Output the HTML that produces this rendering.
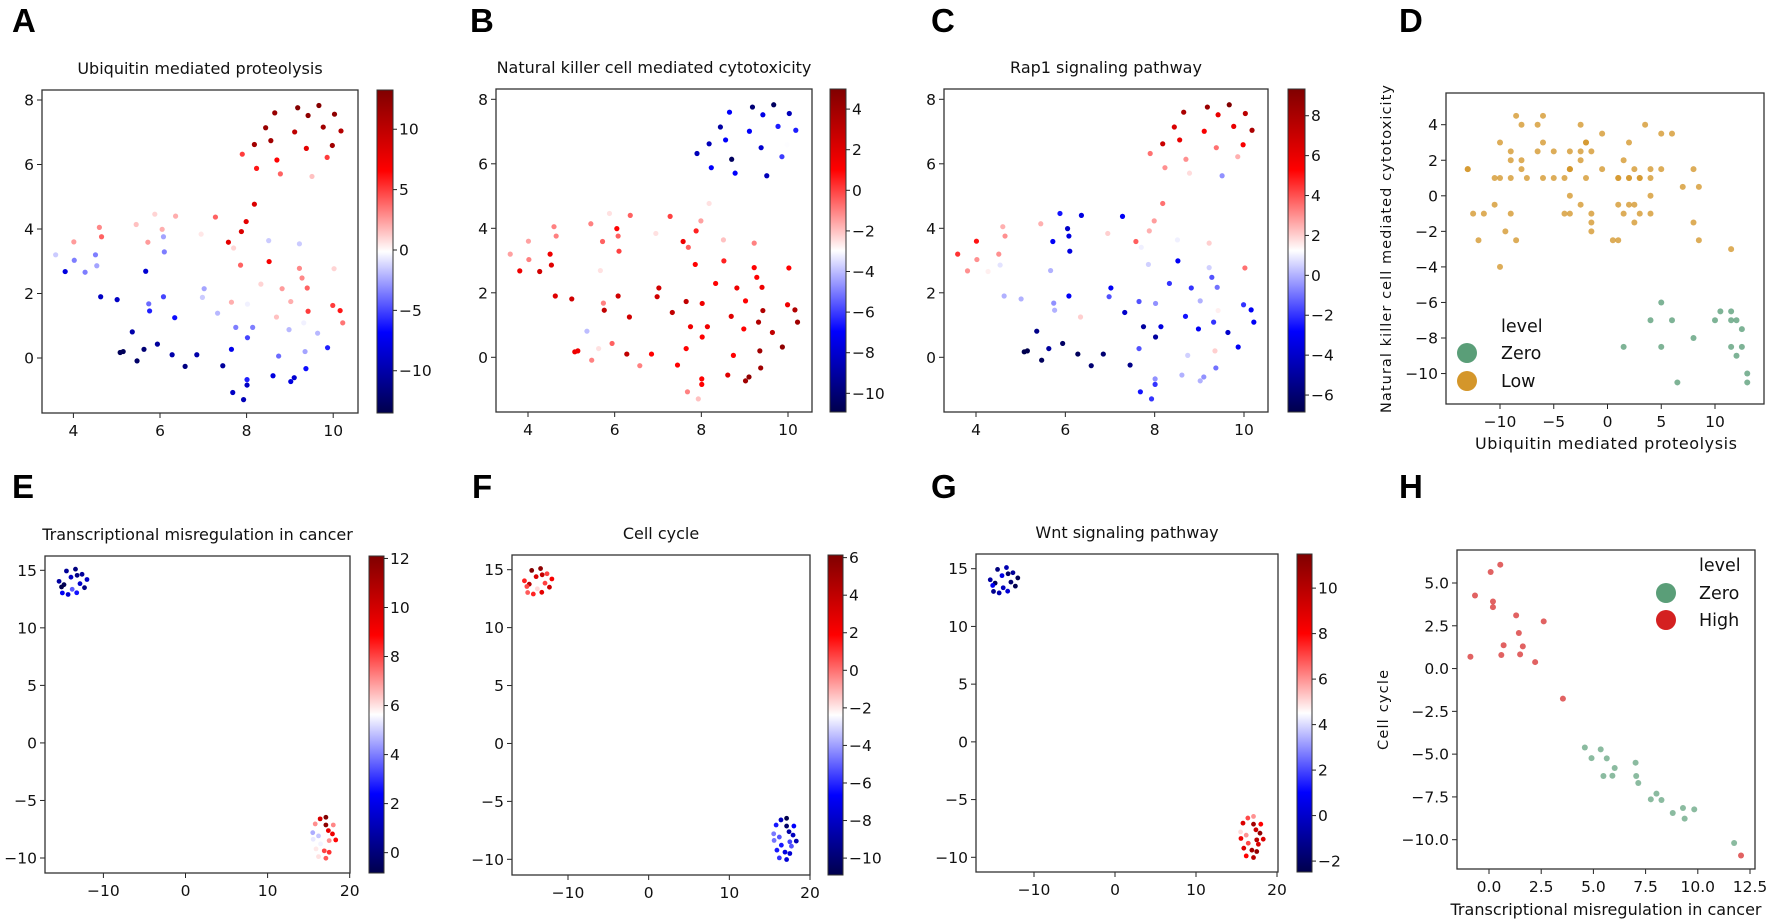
<!DOCTYPE html>
<html><head><meta charset="utf-8">
<style>
html,body{margin:0;padding:0;background:#fff;}
svg{display:block;font-family:"DejaVu Sans","Liberation Sans",sans-serif;}
</style></head>
<body>
<svg id="fig" width="1772" height="924" viewBox="0 0 1772 924" xmlns="http://www.w3.org/2000/svg">
<defs>
<linearGradient id="seis" x1="0" y1="1" x2="0" y2="0">
<stop offset="0" stop-color="#00004c"/><stop offset="0.25" stop-color="#0000ff"/><stop offset="0.5" stop-color="#ffffff"/><stop offset="0.75" stop-color="#ff0000"/><stop offset="1" stop-color="#800000"/>
</linearGradient>
</defs>
</svg>
<script>
// UMAP coordinates shared by panels A, B, C
const umapX = [9.18,9.67,8.65,9.42,10.03,8.44,9.11,9.77,10.18,8.18,8.56,9.38,9.98,7.90,8.70,9.86,8.23,8.78,9.51,8.18,7.99,7.88,7.58,7.28,7.70,6.36,5.88,5.45,6.05,4.60,4.65,4.01,5.72,6.08,6.10,6.95,3.59,4.02,4.51,4.54,3.81,4.27,5.67,8.51,9.22,8.52,7.86,9.22,10.02,9.28,9.40,8.82,8.33,7.02,6.98,4.63,5.01,5.74,5.76,6.08,6.34,7.65,8.02,9.02,9.99,10.16,9.42,10.22,8.69,7.33,7.75,8.14,8.02,8.98,9.64,9.32,5.36,5.08,5.15,5.63,5.94,5.47,6.28,6.58,6.85,7.45,7.65,8.74,9.35,9.87,9.37,8.61,9.02,9.10,8.01,8.01,7.68,7.93];
const umapY = [7.76,7.83,7.60,7.52,7.56,7.14,7.01,7.16,7.04,6.62,6.74,6.50,6.59,6.32,6.14,6.22,5.88,5.71,5.63,4.77,4.23,3.92,3.59,4.37,3.41,4.40,4.46,4.14,3.99,4.05,3.76,3.60,3.59,3.76,3.29,3.84,3.20,3.03,3.20,2.86,2.68,2.66,2.69,3.64,3.54,2.99,2.88,2.78,2.77,2.48,2.17,2.15,2.29,2.15,1.88,1.90,1.81,1.68,1.46,1.90,1.25,1.73,1.67,1.75,1.63,1.47,1.45,1.09,1.27,1.39,0.95,0.95,0.63,0.88,0.77,1.09,0.81,0.17,0.20,0.27,0.43,-0.09,0.10,-0.26,0.10,-0.24,0.27,0.06,0.20,0.32,-0.33,-0.55,-0.73,-0.61,-0.67,-0.84,-1.07,-1.29];
// Ubiquitin mediated proteolysis scores
const ubiquitin = [13,13,12,12.5,12.5,12,10,11.5,10.5,11.5,11.5,8,11.5,5,6.5,5,6,4,1.5,8.5,8,8.5,8,4,1,2,1,1.5,2,3,4,2.5,2.5,-2.5,-3.5,0.5,-1.5,-3.5,-3.5,-2.5,-8,-3.5,-8.5,-1.5,-1.5,7,4,3,1,3,4,2.5,1,-2.5,-1.5,-9,-9,-4,-6,-5,-6.5,2,-0.5,2,5,6,5,3.5,1.5,-2,-3.5,-3.5,-5,-2,-2,-0.5,-10,-13,-13,-12,-10.5,-12.5,-10,-11.5,-10,-10.5,-7.5,-4,-2.5,-6,-6.5,-8,-8,-8.5,-6,-9,-9,-9.5];
// Natural killer cell mediated cytotoxicity scores
const nkCell = [-10,-10.5,-7,-7.5,-8.5,-9,-7,-6.5,-6.5,-8.5,-7,-8,-3,-8.5,-10.5,-6,-7,-7,-8.5,-2.5,-1.5,0.5,1.5,0,-0.5,-0.5,-2.5,-1,1,-1,-1,-1.5,-0.5,-0.5,0,-2.5,-1.5,-1,1.5,2,1.5,2.5,-2.5,-2,-1,0.5,1,1,1,1,1.5,1.5,1,2.5,2.5,2,2.5,-1,3,2.5,2.5,3,1.5,1,1.5,3.5,3.5,4,2,3,1.5,1.5,1,1,3,3.5,-4,1.5,1.5,-2.5,-0.5,-1,3,-1,1,1,1,1,4,4.5,4,2,4,4.5,1,1,-1,-2];
// Rap1 signaling pathway scores
const rap1 = [8.5,9.3,8,6,7.5,6.5,5.5,6,8,7,6,3.5,5.5,3.5,3,2.5,3,1.8,-0.5,3.5,2.8,2.5,3.8,-3,1,-3.5,-2.5,2.5,-4,2.5,3,5,-3,-3.5,-3.5,2,4.5,3,3,0.8,3,1.5,0,1,2,-3,0.5,0.5,3.5,-1.5,-1,-2,-2,-3,-1.5,0,0,-0.5,0,-3,2,-1.5,-0.5,0,-2,-3,1.5,-3,-2.5,-4,-5,-3.5,-5,-3,-4,-2,-5.5,-6.8,-6.8,-5,-6.3,-6.5,-6.5,-6,-6,-5.5,-1.5,0.5,2,-3,-1,0,0,-0.5,-0.5,-2,-2.5,-2];
// embedding for panels E, F, G
const embX = [-14.5,-13.4,-13.95,-13.2,-12.6,-12.0,-15.4,-14.8,-15.1,-12.85,-12.3,-13.8,-15.0,-14.3,-13.25,16.4,17.1,15.8,17.1,18.0,17.4,17.9,15.5,16.2,18.3,17.5,15.55,16.45,15.9,16.9,17.5,16.2,17.1,17.7];
const embY = [14.94,15.1,14.4,14.56,14.65,14.2,14.04,13.75,13.55,13.84,13.49,13.35,13.03,12.9,13.05,-6.6,-6.46,-7.04,-7.13,-7.13,-7.62,-7.91,-7.8,-8.08,-8.43,-8.49,-8.37,-8.78,-9.21,-9.38,-9.5,-9.88,-10.02,-8.87];
const transcr = [0.54,0.08,1.30,0.19,0.59,1.43,0.70,-0.67,-0.89,1.49,0.19,3.54,2.21,1.62,2.62,9.83,12.07,7.05,11.74,7.15,9.37,9.29,4.59,4.91,8.80,7.02,5.35,5.48,5.91,8.02,8.26,6.02,7.75,5.64];
const cellCycle = [6.07,5.64,3.11,3.92,0.79,2.08,1.36,4.27,0.69,0.83,3.59,-1.76,0.38,1.30,2.76,-8.23,-10.92,-6.28,-10.19,-6.69,-8.77,-8.15,-4.61,-5.23,-8.44,-5.50,-4.72,-6.28,-6.26,-7.31,-7.68,-5.81,-7.64,-5.25];
const wnt = [-1.5,-0.5,0.5,-2,-1,-2.3,-0.8,-2.2,0.8,-1.8,-2.4,-0.3,-1.2,-0.6,0.2,7,6,9,10.5,8,9.5,11,5,6,9,10,8.5,7,9,10.5,11,8,10,9];
const hLevel = ['High','High','High','High','High','High','High','High','High','High','High','High','High','High','High','Zero','High','Zero','Zero','Zero','Zero','Zero','Zero','Zero','Zero','Zero','Zero','Zero','Zero','Zero','Zero','Zero','Zero','Zero'];
// tick labels
const umapXTicks = [4,6,8,10];
const umapYTicks = [0,2,4,6,8];
const embXTicks = [-10,0,10,20];
const embYTicks = [-10,-5,0,5,10,15];
const dXTicks = [-10,-5,0,5,10];
const dYTicks = [-10,-8,-6,-4,-2,0,2,4];
const hXTicks = [0,2.5,5,7.5,10,12.5];
const hYTicks = [-10,-7.5,-5,-2.5,0,2.5,5];

const NS='http://www.w3.org/2000/svg';
const svg=document.getElementById('fig');
function mk(tag,attrs,parent){const e=document.createElementNS(NS,tag);for(const k in attrs)e.setAttribute(k,attrs[k]);(parent||svg).appendChild(e);return e;}
function txt(s,attrs,parent){const e=mk('text',attrs,parent);e.textContent=s;return e;}
function fmt(v){return (v<0?'\u2212':'')+Math.abs(v);}
function fmt1(v){return (v<0?'\u2212':'')+Math.abs(v).toFixed(1);}
function lin(d0,d1,p0,p1){return v=>p0+(v-d0)*(p1-p0)/(d1-d0);}
function seismic(t){t=Math.max(0,Math.min(1,t));const st=[[0,0,0,76],[0.25,0,0,255],[0.5,255,255,255],[0.75,255,0,0],[1,128,0,0]];
 for(let i=0;i<4;i++){if(t<=st[i+1][0]){const f=(t-st[i][0])/(st[i+1][0]-st[i][0]);const c=[1,2,3].map(j=>Math.round(st[i][j]+f*(st[i+1][j]-st[i][j])));return `rgb(${c[0]},${c[1]},${c[2]})`;}}return 'rgb(128,0,0)';}

function axes(p){
 const g=mk('g',{});
 
 
 const sx=lin(p.xd[0],p.xd[1],p.xp[0],p.xp[1]), sy=lin(p.yd[0],p.yd[1],p.yp[0],p.yp[1]);
 const F=p.fmt||fmt;
 p.xt.forEach(v=>{const x=sx(v);mk('line',{x1:x,x2:x,y1:p.b,y2:p.b+5,stroke:'#222','stroke-width':1},g);
  const t=txt(F(v),{x:x,y:p.b+23,'font-size':15.5,'text-anchor':'middle',fill:'#111'},g);
  });
 p.yt.forEach(v=>{const y=sy(v);mk('line',{x1:p.l-5,x2:p.l,y1:y,y2:y,stroke:'#222','stroke-width':1},g);
  const t=txt(F(v),{x:p.l-8,y:y+5.5,'font-size':15.5,'text-anchor':'end',fill:'#111'},g);
  });
 const pts=mk('g',{},g);
 
 
 p.xs.forEach((xv,i)=>{const c=mk('circle',{cx:sx(xv),cy:sy(p.ys[i]),r:p.r||2.6,fill:p.color(i),'fill-opacity':p.op||1},pts);
  });
 const fr=mk('rect',{x:p.l,y:p.t,width:p.r2-p.l,height:p.b-p.t,fill:'none',stroke:'#333','stroke-width':1.3},g);
 
 if(p.title){const t=txt(p.title,{x:(p.l+p.r2)/2,y:p.t-16,'font-size':16,'text-anchor':'middle',fill:'#111'},g);
  }
 return g;
}
function cbar(c){
 const g=mk('g',{});
 
 
 mk('rect',{x:c.x,y:c.t,width:c.w,height:c.b-c.t,fill:'url(#seis)',stroke:'#333','stroke-width':1},g);
 const sy=lin(c.vmin,c.vmax,c.b,c.t);
 c.ticks.forEach(v=>{const y=sy(v);mk('line',{x1:c.x+c.w,x2:c.x+c.w+4,y1:y,y2:y,stroke:'#222','stroke-width':1},g);
  const t=txt(fmt(v),{x:c.x+c.w+6,y:y+5.5,'font-size':15.5,fill:'#111'},g);
  });
}
function norm(vmin,vmax,arr){return i=>seismic((arr[i]-vmin)/(vmax-vmin));}
function range(a,b,s){const r=[];for(let v=a;v<=b+1e-9;v+=s)r.push(v);return r;}

// Panel A
axes({name:'panel-a-umap',l:42,r2:358,t:90,b:413,xd:[4,10],xp:[73.4,333.2],yd:[0,8],yp:[358,100],xt:umapXTicks,yt:umapYTicks,xs:umapX,ys:umapY,color:norm(-13.5,13.25,ubiquitin),title:'Ubiquitin mediated proteolysis'});
cbar({x:377,w:16,t:90,b:413,vmin:-13.5,vmax:13.25,ticks:[-10,-5,0,5,10]});
// Panel B
axes({name:'panel-b-umap',l:496,r2:812,t:89,b:412,xd:[4,10],xp:[528,788],yd:[0,8],yp:[357.3,99.3],xt:umapXTicks,yt:umapYTicks,xs:umapX,ys:umapY,color:norm(-10.92,4.99,nkCell),title:'Natural killer cell mediated cytotoxicity'});
cbar({x:830,w:16,t:89,b:412,vmin:-10.92,vmax:4.99,ticks:range(-10,4,2)});
// Panel C
axes({name:'panel-c-umap',l:944,r2:1268,t:89,b:412,xd:[4,10],xp:[976,1244],yd:[0,8],yp:[357.3,99.3],xt:umapXTicks,yt:umapYTicks,xs:umapX,ys:umapY,color:norm(-6.85,9.34,rap1),title:'Rap1 signaling pathway'});
cbar({x:1288,w:17,t:89,b:412,vmin:-6.85,vmax:9.34,ticks:range(-6,8,2)});
// Panel D
const levelColor={Zero:'#5a9e78',Low:'#d4962a',High:'#d42020'};
const dLevel=nkCell.map(v=>v<-5?'Zero':'Low');
axes({name:'panel-d-scatter',l:1446,r2:1764,t:93,b:404,xd:[0,10],xp:[1607.5,1715],yd:[0,4],yp:[195.8,124.7],xt:dXTicks,yt:dYTicks,xs:ubiquitin,ys:nkCell,r:3,op:0.78,color:i=>levelColor[dLevel[i]]});
// Panel E
axes({name:'panel-e-embedding',l:45,r2:350,t:556,b:873,xd:[-10,20],xp:[103.4,349.7],yd:[-10,15],yp:[858,570.3],xt:embXTicks,yt:embYTicks,xs:embX,ys:embY,r:2.4,color:norm(-0.83,12.1,transcr),title:'Transcriptional misregulation in cancer'});
cbar({x:369,w:15,t:556,b:873,vmin:-0.83,vmax:12.1,ticks:range(0,12,2)});
// Panel F
axes({name:'panel-f-embedding',l:512,r2:810,t:555,b:875,xd:[-10,20],xp:[568,810],yd:[-10,15],yp:[859.3,569.7],xt:embXTicks,yt:embYTicks,xs:embX,ys:embY,r:2.4,color:norm(-10.9,6.14,cellCycle),title:'Cell cycle'});
cbar({x:828,w:15,t:555,b:875,vmin:-10.9,vmax:6.14,ticks:range(-10,6,2)});
// Panel G
axes({name:'panel-g-embedding',l:976,r2:1278,t:554,b:872,xd:[-10,20],xp:[1034,1277],yd:[-10,15],yp:[857.3,568.7],xt:embXTicks,yt:embYTicks,xs:embX,ys:embY,r:2.4,color:norm(-2.48,11.5,wnt),title:'Wnt signaling pathway'});
cbar({x:1297,w:15,t:554,b:872,vmin:-2.48,vmax:11.5,ticks:range(-2,10,2)});
// Panel H
axes({name:'panel-h-scatter',l:1457,r2:1755,t:550,b:869,xd:[0,12.5],xp:[1489,1750],yd:[-10,5],yp:[839.7,583],xt:hXTicks,yt:hYTicks,xs:transcr,ys:cellCycle,r:3,op:0.7,fmt:fmt1,color:i=>levelColor[hLevel[i]]});

// axis labels
let t;
t=txt('Ubiquitin mediated proteolysis',{x:1606,y:449,'font-size':16,'text-anchor':'middle',fill:'#111',textLength:262});

t=txt('Natural killer cell mediated cytotoxicity',{x:0,y:0,'font-size':14.5,'text-anchor':'middle',fill:'#111',transform:'translate(1391,249) rotate(-90)',textLength:328});

t=txt('Transcriptional misregulation in cancer',{x:1606,y:915,'font-size':16,'text-anchor':'middle',fill:'#111',textLength:311});

t=txt('Cell cycle',{x:0,y:0,'font-size':14.5,'text-anchor':'middle',fill:'#111',transform:'translate(1388,710) rotate(-90)',textLength:80});


// legends
function legend(name,x,cx,ys,items){
 const g=mk('g',{});
 
 
 txt('level',{x:x,y:ys[0],'font-size':17.5,fill:'#111'},g);
 items.forEach((it,i)=>{mk('circle',{cx:cx,cy:ys[i+1]-6,r:10,fill:levelColor[it]},g);
  const e=txt(it,{x:x,y:ys[i+1],'font-size':17.5,fill:'#111'},g);
  });
}
legend('d-legend',1501,1467,[332,359,387],['Zero','Low']);
legend('h-legend',1699,1666,[571,599,626],['Zero','High']);

// panel letters
[['A',12,32],['B',470,32],['C',931,32],['D',1399,32],['E',12,498],['F',472,498],['G',931,498],['H',1399,498]].forEach(a=>{
 const e=txt(a[0],{x:a[1],y:a[2],'font-size':33,'font-weight':'bold',fill:'#000','font-family':'Liberation Sans, sans-serif'});
 
 
});
</script>
</body></html>
